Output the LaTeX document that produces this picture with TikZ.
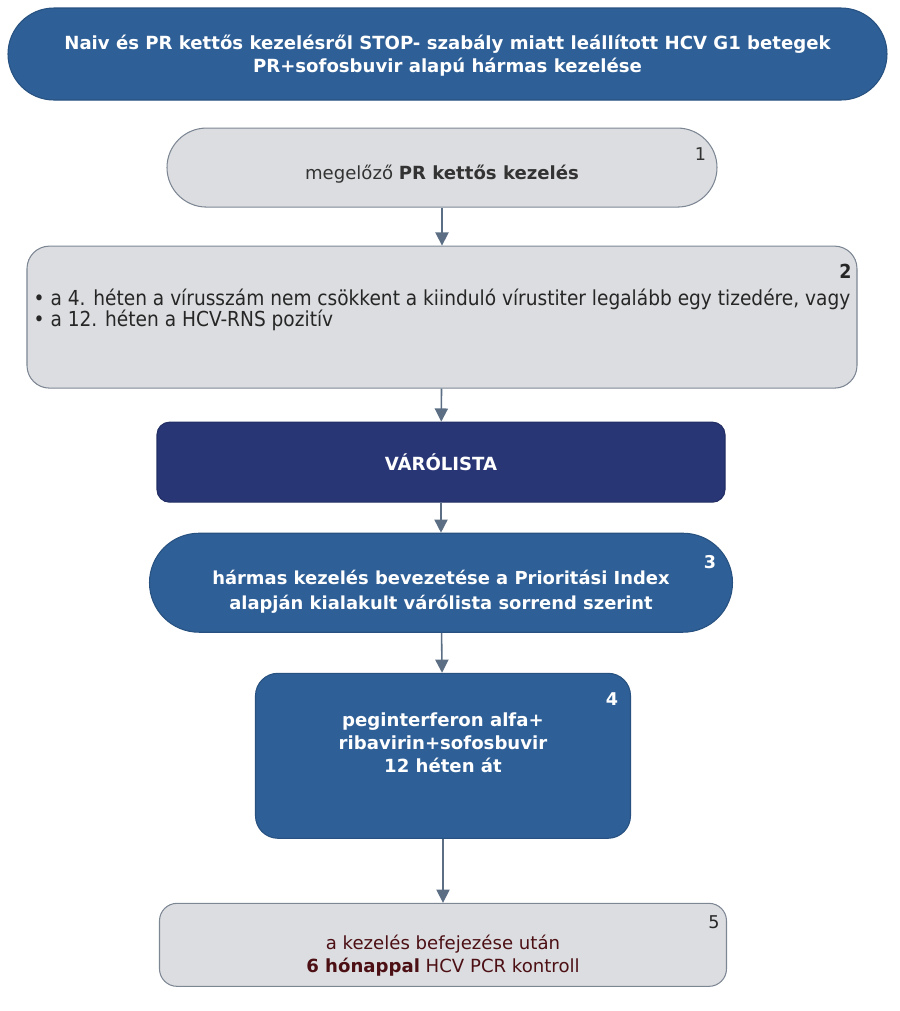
\documentclass[tikz,border=0pt]{standalone}
\usepackage{fontspec}
\setmainfont{DejaVu Sans}
\newfontfamily\condfont{DejaVu Sans Condensed}
\usepackage{xcolor}
\usepackage{tikz}
\usetikzlibrary{positioning, arrows.meta}
\definecolor{flowblue}{HTML}{2E5F96}
\definecolor{flownavy}{HTML}{283676}
\definecolor{flowgray}{HTML}{DCDDE0}
\definecolor{flowline}{HTML}{7D8794}
\definecolor{flowarrow}{HTML}{5B6E84}
\definecolor{flowred}{HTML}{4B0F14}
\tikzstyle{bluebox} = [rectangle, draw=flowblue!85!black, fill=flowblue, line width=0.6pt]
\tikzstyle{navybox} = [rectangle, rounded corners=0.25cm, draw=flownavy!85!black, fill=flownavy, line width=0.6pt]
\tikzstyle{graybox} = [rectangle, draw=flowline, fill=flowgray, line width=0.6pt]
\tikzstyle{whitetext} = [text=white, font=\bfseries\fontsize{10.3}{13.2}\selectfont, align=center, inner sep=0pt]
\tikzstyle{graytext} = [text=black!80, font=\fontsize{10.3}{12.8}\selectfont, align=center, inner sep=0pt]
\tikzstyle{num} = [font=\fontsize{10}{12}\selectfont, inner sep=0pt]
\tikzstyle{arrow} = [line width=0.9pt, draw=flowarrow, -{Triangle[width=7.5pt, length=7.5pt]}]

\begin{document}
\begin{tikzpicture}[node distance=0.6cm]
        \useasboundingbox (0,0) rectangle (18,-20.22);
        \node (top) [bluebox, rounded corners=0.92cm, minimum width=17.58cm, minimum height=1.84cm] at (8.95,-1.08) {};
        \node (one) [graybox, rounded corners=0.79cm, minimum width=11cm, minimum height=1.58cm, below=0.54cm of top, xshift=-0.11cm] {};
        \node (two) [graybox, rounded corners=0.45cm, minimum width=16.6cm, minimum height=2.84cm, below=0.76cm of one] {};
        \node (varo) [navybox, minimum width=11.36cm, minimum height=1.6cm, below=0.66cm of two, xshift=-0.02cm] {};
        \node (three) [bluebox, rounded corners=0.99cm, minimum width=11.66cm, minimum height=1.98cm, below=0.6cm of varo] {};
        \node (four) [bluebox, rounded corners=0.45cm, minimum width=7.5cm, minimum height=3.3cm, below=0.8cm of three, xshift=0.04cm] {};
        \node (five) [graybox, rounded corners=0.35cm, minimum width=11.34cm, minimum height=1.66cm, below=1.28cm of four] {};

        % texts
        \node (toptxt) [whitetext] at ([yshift=-0.04cm]top.center) {Naiv és PR kettős kezelésről STOP- szabály miatt leállított HCV G1 betegek\\PR+sofosbuvir alapú hármas kezelése};
        \node (onetxt) [graytext] at ([yshift=-0.14cm]one.center) {megelőző \textbf{PR kettős kezelés}};
        \node (twotxt) [graytext, text=black!85, align=left, font=\condfont\fontsize{11.75}{12}\selectfont] at ([yshift=0.14cm]two.center) {• a 4. héten a vírusszám nem csökkent a kiinduló vírustiter legalább egy tizedére, vagy\\• a 12. héten a HCV-RNS pozitív};
        \node (varotxt) [whitetext] at (varo.center) {VÁRÓLISTA};
        \node (threetxt) [whitetext, font=\bfseries\fontsize{10.2}{14.7}\selectfont] at ([yshift=-0.18cm]three.center) {hármas kezelés bevezetése a Prioritási Index\\alapján kialakult várólista sorrend szerint};
        \node (fourtxt) [whitetext] at ([yshift=0.26cm]four.center) {peginterferon alfa+\\ribavirin+sofosbuvir\\12 héten át};
        \node (fivetxt) [graytext, text=flowred] at ([yshift=-0.22cm]five.center) {a kezelés befejezése után\\\textbf{6 hónappal} HCV PCR kontroll};

        % numbers
        \node (onenum) [num, text=black!80] at ([xshift=-0.34cm, yshift=-0.54cm]one.north east) {1};
        \node (twonum) [num, text=black!85, font=\condfont\bfseries\fontsize{11}{12}\selectfont] at ([xshift=-0.24cm, yshift=-0.52cm]two.north east) {2};
        \node (threenum) [num, text=white, font=\bfseries\fontsize{10}{12}\selectfont] at ([xshift=-0.46cm, yshift=-0.58cm]three.north east) {3};
        \node (fournum) [num, text=white, font=\bfseries\fontsize{10}{12}\selectfont] at ([xshift=-0.38cm, yshift=-0.52cm]four.north east) {4};
        \node (fivenum) [num, text=black!85] at ([xshift=-0.26cm, yshift=-0.38cm]five.north east) {5};

        \draw [arrow] (one) -- (two);
        \draw [arrow] (two) -- (varo);
        \draw [arrow] (varo) -- (three);
        \draw [arrow] (three) -- (four);
        \draw [arrow] (four) -- (five);
    \end{tikzpicture}
\end{document}
